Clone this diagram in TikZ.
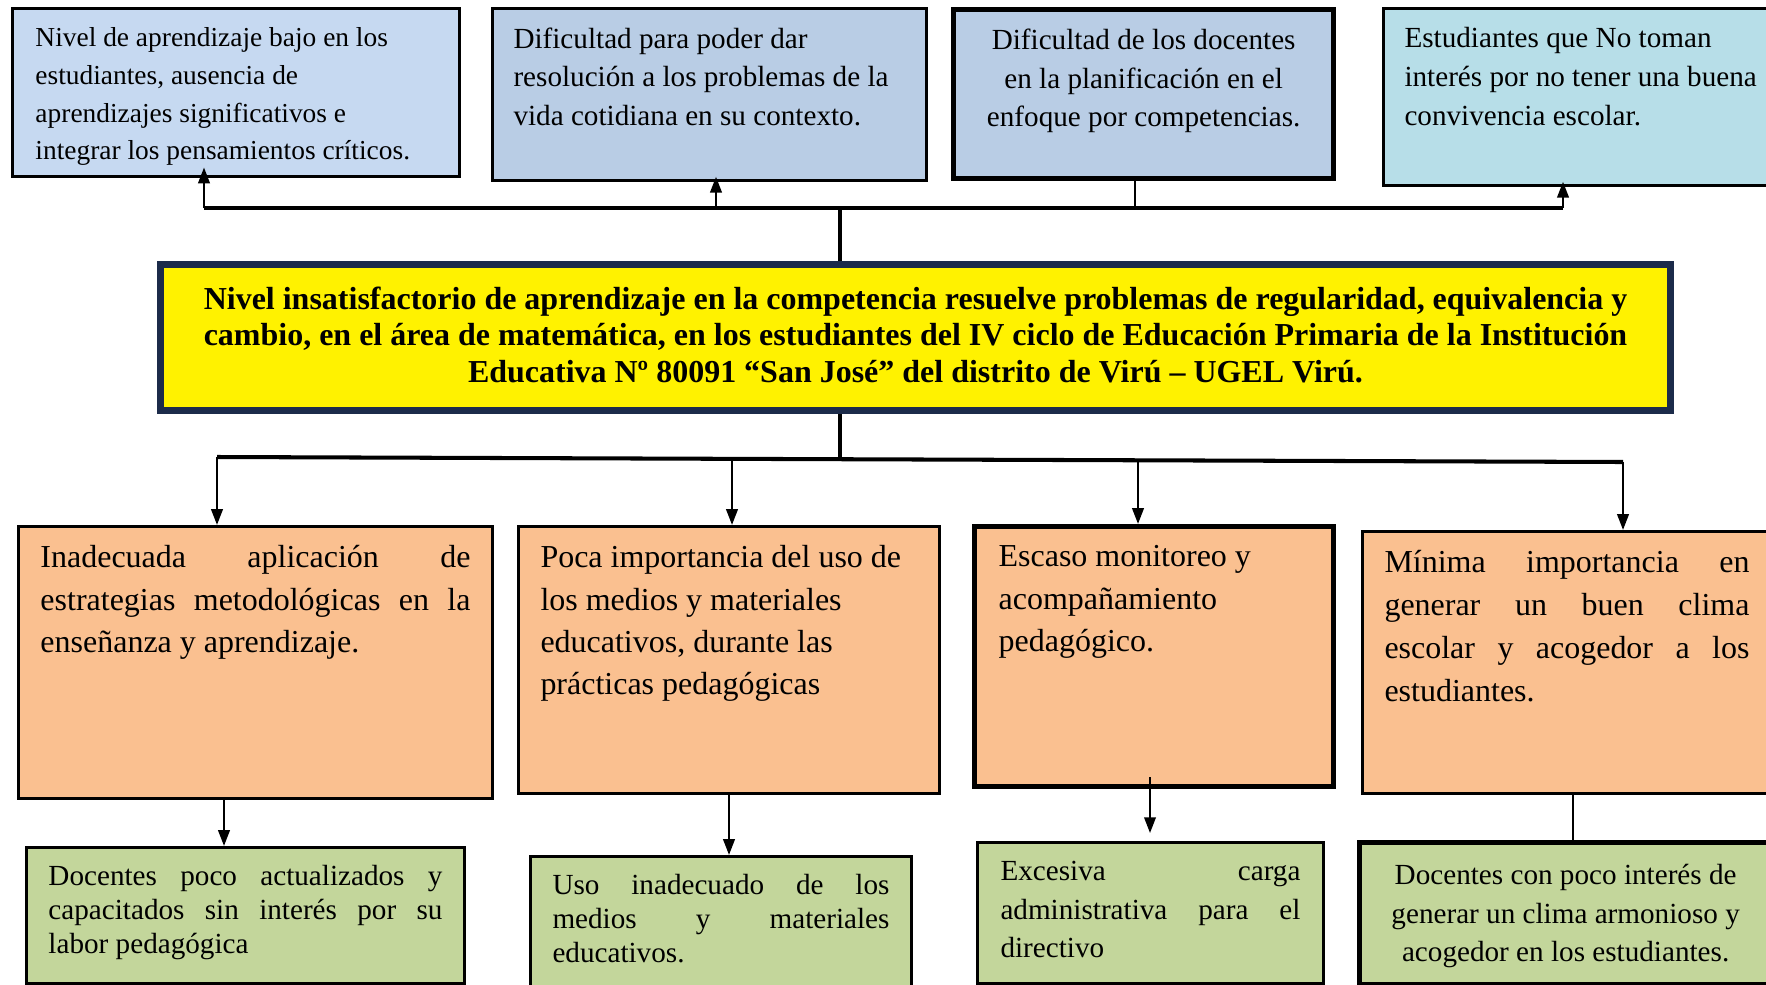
\documentclass[tikz,border=0pt]{standalone}
\usepackage{fontspec}
\setmainfont{Liberation Serif}
\usetikzlibrary{positioning,arrows.meta}
\definecolor{azulA}{HTML}{C6D9F1}
\definecolor{azulB}{HTML}{B9CDE5}
\definecolor{celeste}{HTML}{B7DEE8}
\definecolor{naranja}{HTML}{FAC090}
\definecolor{verde}{HTML}{C3D69B}
\definecolor{marino}{HTML}{1C2B4A}
\newdimen\px \px=0.2mm
% caja de texto: ancho, alto, formato, texto
\newcommand{\caja}[4]{\parbox[c][#2\px][t]{#1\px}{#3#4}}
\newcommand{\fuente}[2]{\fontsize{#1}{#2}\selectfont}
\newcommand{\just}{\tolerance=10000 \hyphenpenalty=10000 }
\tikzset{
  caja/.style={rectangle, draw=black, line width=1.7pt, inner sep=0pt, anchor=north west},
  caja gruesa/.style={line width=3pt},
  efecto/.style={caja, fill=azulB},
  problema/.style={rectangle, draw=marino, line width=4pt, fill=yellow, inner sep=0pt, anchor=north west},
  causa/.style={caja, fill=naranja},
  subcausa/.style={caja, fill=verde},
  barra/.style={line width=2.3pt},
  flecha/.style={line width=1.4pt, -{Triangle[length=9pt,width=6.5pt]}},
  linea/.style={line width=1.1pt}
}

\begin{document}
\begin{tikzpicture}[x=0.2mm, y=-0.2mm]
    \useasboundingbox (0,0) rectangle (1766,984);

    % Efectos
    \node [efecto, fill=azulA, inner xsep=23\px, inner ysep=19\px] (t1) at (11,7)
      {\caja{401}{130}{\fuente{15.6pt}{21.5pt}\raggedright}{Nivel de aprendizaje bajo en los\\ estudiantes, ausencia de\\ aprendizajes significativos e\\ integrar los pensamientos críticos.}};
    \node [efecto, inner xsep=21\px, inner ysep=19\px] (t2) at (491,7)
      {\caja{392}{134}{\fuente{16.6pt}{22.1pt}\raggedright}{Dificultad para poder dar\\ resolución a los problemas de la\\ vida cotidiana en su contexto.}};
    \node [efecto, caja gruesa, inner xsep=21\px, inner ysep=19\px] (t3) at (951,7)
      {\caja{338}{131}{\fuente{16.6pt}{22.1pt}\centering}{Dificultad de los docentes\\ en la planificación en el\\ enfoque por competencias.}};
    \node [efecto, fill=celeste, inner xsep=21\px, inner ysep=19\px] (t4) at (1382,7)
      {\caja{378}{139}{\fuente{16.6pt}{22.1pt}\raggedright}{Estudiantes que No toman\\ interés por no tener una buena\\ convivencia escolar.}};

    % Problema central
    \node [problema, inner xsep=20\px, inner ysep=22\px] (prob) at (157,261)
      {\caja{1470}{102}{\fuente{18.2pt}{20.8pt}\bfseries\centering}{Nivel insatisfactorio de aprendizaje en la competencia resuelve problemas de regularidad, equivalencia y\\ cambio, en el área de matemática, en los estudiantes del IV ciclo de Educación Primaria de la Institución\\ Educativa Nº 80091 “San José” del distrito de Virú – UGEL Virú.}};

    % Causas
    \node [causa, inner xsep=22\px, inner ysep=19\px] (o1) at (17,525)
      {\caja{430}{234}{\fuente{18.2pt}{24.1pt}\just}{Inadecuada aplicación de\linebreak estrategias metodológicas en la\linebreak enseñanza y aprendizaje.}};
    \node [causa, inner xsep=22\px, inner ysep=19\px] (o2) at (517,525)
      {\caja{377}{229}{\fuente{18.2pt}{24.1pt}\raggedright}{Poca importancia del uso de\\ los medios y materiales\\ educativos, durante las\\ prácticas pedagógicas}};
    \node [causa, caja gruesa, inner xsep=24\px, inner ysep=19\px] (o3) at (972,524)
      {\caja{311}{222}{\fuente{18.2pt}{24.1pt}\raggedright}{Escaso monitoreo y\\ acompañamiento\\ pedagógico.}};
    \node [causa, inner xsep=22\px, inner ysep=19\px] (o4) at (1361,530)
      {\caja{365}{224}{\fuente{18.2pt}{24.4pt}\just}{Mínima importancia en\linebreak generar un buen clima\linebreak escolar y acogedor a los\linebreak estudiantes.}};

    % Subcausas
    \node [subcausa, inner xsep=22\px, inner ysep=18\px] (g1) at (25,846)
      {\caja{394}{100}{\fuente{16.6pt}{19.2pt}\just}{Docentes poco actualizados y\linebreak capacitados sin interés por su\linebreak labor pedagógica}};
    \node [subcausa, inner xsep=22\px, inner ysep=18\px] (g2) at (529,855)
      {\caja{337}{104}{\fuente{16.6pt}{19.2pt}\just}{Uso inadecuado de los\linebreak medios y materiales\linebreak educativos.}};
    \node [subcausa, inner xsep=23\px, inner ysep=19\px] (g3) at (976,841)
      {\caja{300}{103}{\fuente{16.6pt}{21.8pt}\just}{Excesiva carga\linebreak administrativa para el\linebreak directivo}};
    \node [subcausa, caja gruesa, inner xsep=20\px, inner ysep=22\px] (g4) at (1357,840)
      {\caja{372}{98}{\fuente{16.6pt}{21.8pt}\centering}{Docentes con poco interés de\\ generar un clima armonioso y\\ acogedor en los estudiantes.}};

    % Conexiones superiores
    \coordinate (js) at (840,208);
    \coordinate (bs1) at (204,208);
    \coordinate (bs2) at (716,208);
    \coordinate (bs3) at (1135,208);
    \coordinate (bs4) at (1563,208);
    \draw [barra] (prob.north -| js) -- (js);
    \draw [barra] (bs1) -- (bs4);
    \draw [flecha, shorten >=-6pt] (bs1) -- (bs1 |- t1.south);
    \draw [flecha, shorten >=-3pt] (bs2) -- (bs2 |- t2.south);
    \draw [linea] (bs3 |- t3.south) -- (bs3);
    \draw [flecha, shorten >=-3pt] (bs4) -- (bs4 |- t4.south);

    % Conexiones inferiores
    \coordinate (ji) at (840,459);
    \coordinate (bi1) at (217,457);
    \coordinate (bi2) at (732,459);
    \coordinate (bi3) at (1138,460);
    \coordinate (bi4) at (1623,462);
    \draw [barra] (prob.south -| ji) -- (ji);
    \draw [barra] (bi1) -- (bi4);
    \draw [flecha] (bi1) -- (bi1 |- o1.north);
    \draw [flecha] (bi2) -- (bi2 |- o2.north);
    \draw [flecha] (bi3) -- (bi3 |- o3.north);
    \draw [flecha] (bi4) -- (bi4 |- o4.north);

    % Causas a subcausas
    \coordinate (d1) at (224,797);
    \coordinate (d2) at (729,792);
    \coordinate (d3) at (1150,777);
    \coordinate (d4) at (1573,792);
    \draw [flecha] (d1) -- (d1 |- g1.north);
    \draw [flecha] (d2) -- (d2 |- g2.north);
    \draw [flecha, shorten >=4.5pt] (d3) -- (d3 |- g3.north);
    \draw [linea] (d4) -- (d4 |- g4.north);
\end{tikzpicture}
\end{document}
